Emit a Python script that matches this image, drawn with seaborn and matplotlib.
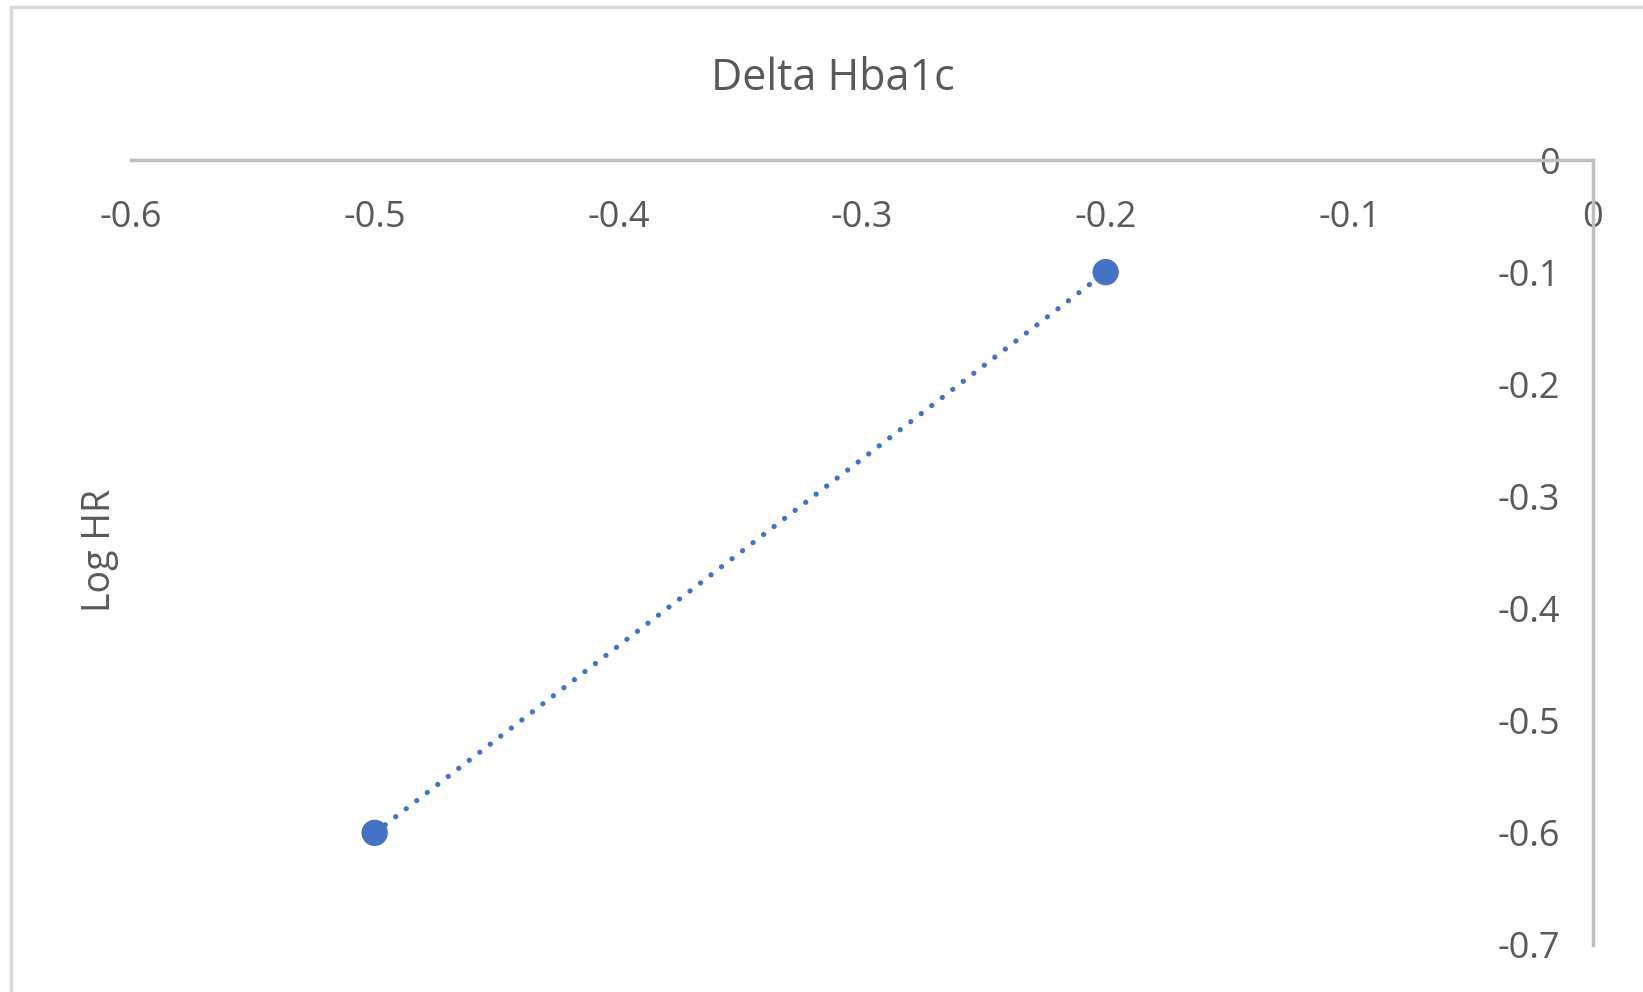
import matplotlib
matplotlib.use("Agg")
import matplotlib.pyplot as plt
import seaborn as sns
import pandas as pd
from matplotlib.patches import Rectangle

delta_hba1c = [-0.5, -0.2]
log_hr = [-0.6, -0.1]
x_ticks = [-0.6, -0.5, -0.4, -0.3, -0.2, -0.1, 0]
y_ticks = [0, -0.1, -0.2, -0.3, -0.4, -0.5, -0.6, -0.7]
x_tick_labels = ["-0.6", "-0.5", "-0.4", "-0.3", "-0.2", "-0.1", "0"]
y_tick_labels = ["0", "-0.1", "-0.2", "-0.3", "-0.4", "-0.5", "-0.6", "-0.7"]

sns.set_theme(style="white")
plt.rcParams['font.family'] = ['Open Sans', 'DejaVu Sans']

TEXT = "#595959"
AXC = "#BFBFBF"
BLUE = "#4472C4"

df = pd.DataFrame({"x": delta_hba1c, "y": log_hr})

fig = plt.figure(figsize=(16.43, 9.92), dpi=100)
ax = fig.add_axes([131/1643, 1-945/992, (1593-131)/1643, (945-160)/992])

sns.lineplot(data=df, x="x", y="y", ax=ax, color=BLUE, linewidth=3.8,
             linestyle=(0, (0.01, 2.5)), dash_capstyle="round", zorder=2)
sns.scatterplot(data=df, x="x", y="y", ax=ax, color=BLUE, s=360,
                edgecolor="none", zorder=3)

ax.set_xlim(-0.6, 0)
ax.set_ylim(-0.7, 0)
for s in ["left", "bottom"]:
    ax.spines[s].set_visible(False)
for s in ["top", "right"]:
    ax.spines[s].set_visible(True)
    ax.spines[s].set_color(AXC)
    ax.spines[s].set_linewidth(2.5)
ax.set_facecolor("none")

ax.set_xticks(x_ticks)
ax.set_xticklabels(x_tick_labels)
ax.set_yticks(y_ticks)
ax.set_yticklabels(y_tick_labels)
ax.tick_params(axis="x", bottom=False, top=False, labelbottom=False, labeltop=True,
               length=0, pad=-29, labelsize=26, labelcolor=TEXT)
ax.tick_params(axis="y", left=False, right=False, labelleft=False, labelright=True,
               length=0, pad=-24, labelsize=26, labelcolor=TEXT)
for t in ax.get_xticklabels():
    t.set_va("top")
for t in ax.get_yticklabels():
    t.set_ha("right")
ax.set_xlabel("")
ax.set_ylabel("")
ax.grid(False)
legend = ax.get_legend()
if legend:
    legend.remove()

fig.text(833/1643, 1-79/992, "Delta Hba1c", ha="center", va="center",
         fontsize=31, color=TEXT)
fig.text(100/1643, 1-550/992, "Log HR", ha="center", va="center",
         rotation=90, fontsize=27, color=TEXT)

fig.patches.append(Rectangle((11/1643, -0.05), 1.1, 1 - 7/992 + 0.05,
                             transform=fig.transFigure, fill=False,
                             edgecolor="#D9D9D9", linewidth=2.5))

fig.savefig("out.png", dpi=100)
